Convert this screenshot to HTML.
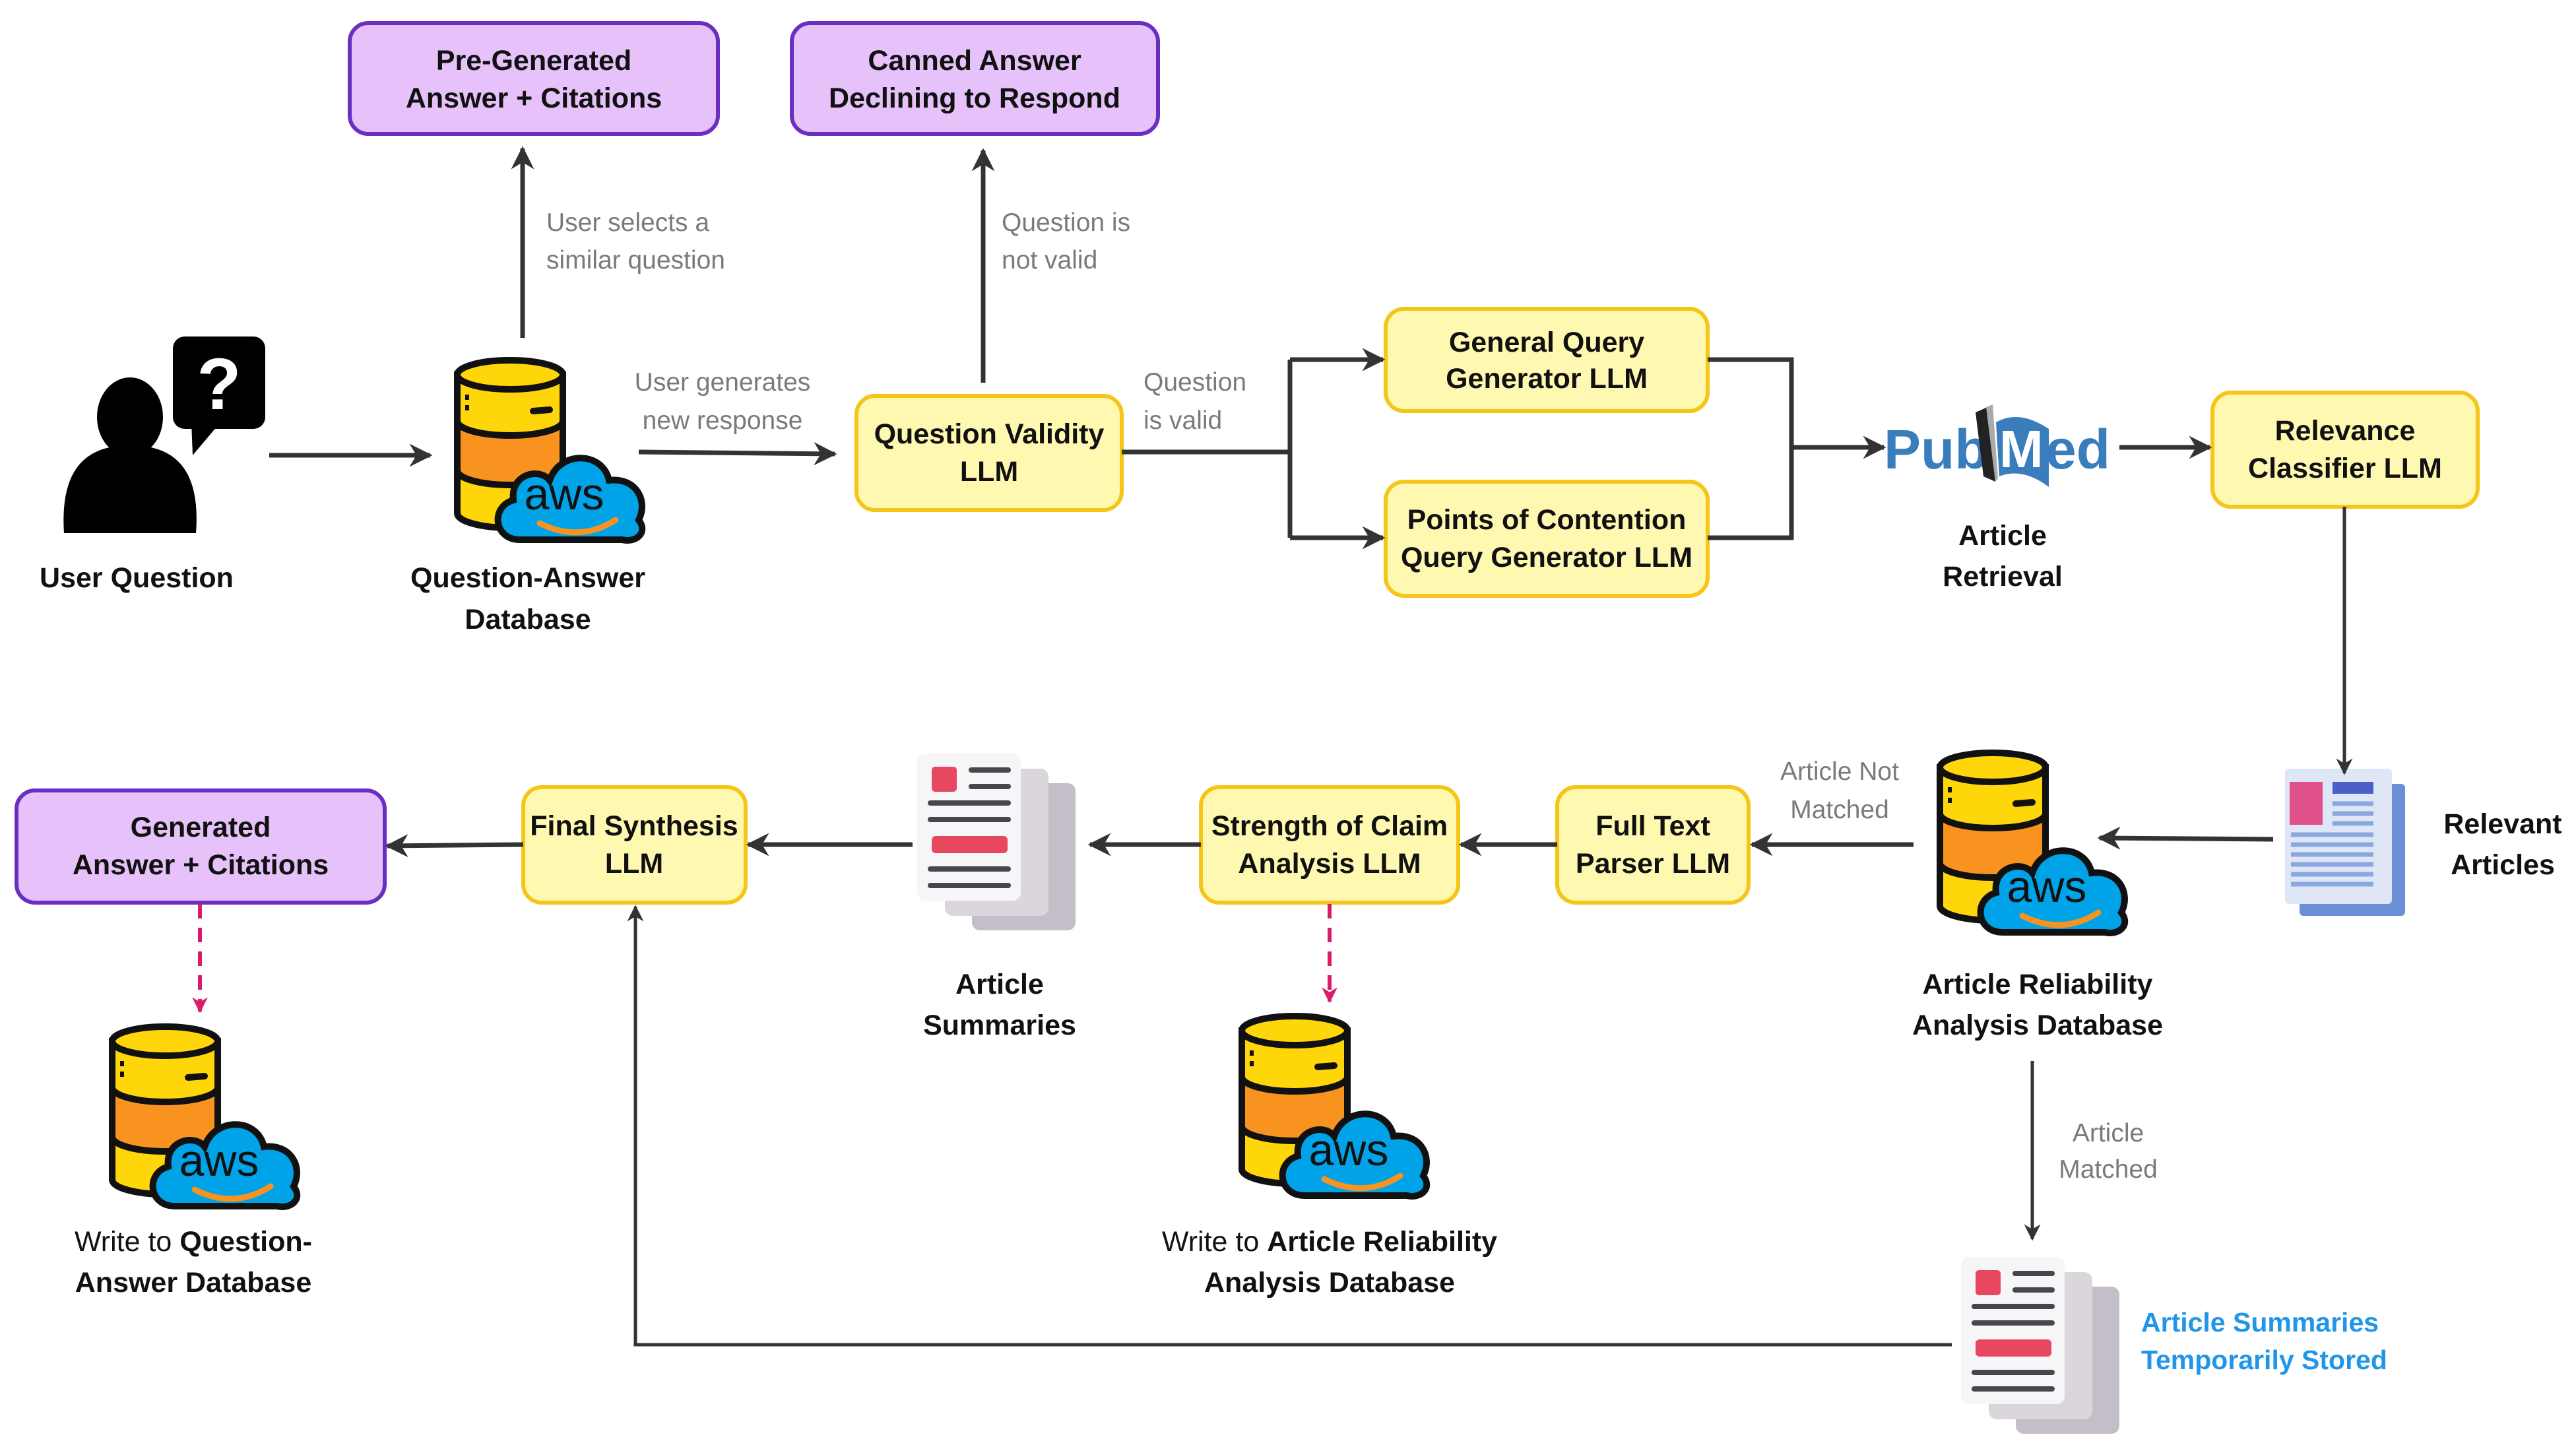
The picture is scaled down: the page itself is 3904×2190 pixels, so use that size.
<!DOCTYPE html>
<html><head><meta charset="utf-8"><style>
html,body{margin:0;padding:0;background:#fff;}
svg{display:block;}
.b{font-family:"Liberation Sans",sans-serif;font-weight:bold;font-size:43px;fill:#111;text-anchor:middle;}
.g{font-family:"Liberation Sans",sans-serif;font-size:39px;fill:#7a7a7a;}
.n{font-family:"Liberation Sans",sans-serif;font-size:43px;fill:#111;text-anchor:middle;}
</style></head><body>
<svg width="3904" height="2190" viewBox="0 0 3904 2190" xmlns="http://www.w3.org/2000/svg">
<defs>
<marker id="ar" viewBox="0 0 10 10" refX="9" refY="5" markerWidth="5" markerHeight="5" orient="auto-start-reverse" markerUnits="strokeWidth">
<path d="M0,0 L10,5 L0,10 L3,5 z" fill="#333"/></marker>
<marker id="ap" viewBox="0 0 10 10" refX="9" refY="5" markerWidth="4" markerHeight="4" orient="auto" markerUnits="strokeWidth">
<path d="M0,0 L10,5 L0,10 L3,5 z" fill="#d81b6a"/></marker>
<g id="db">
<path d="M5,25 L5,235 A80,22 0 0 0 165,235 L165,25 Z" fill="#ffd60a" stroke="#111" stroke-width="10"/>
<path d="M5,95 A80,22 0 0 0 165,95 L165,170 A80,22 0 0 1 5,170 Z" fill="#f7931e" stroke="#111" stroke-width="10"/>
<ellipse cx="85" cy="25" rx="80" ry="22" fill="#ffd60a" stroke="#111" stroke-width="10"/>
<line x1="120" y1="80" x2="145" y2="78" stroke="#111" stroke-width="10" stroke-linecap="round"/>
<line x1="20" y1="55" x2="20" y2="80" stroke="#111" stroke-width="6" stroke-dasharray="8 8"/>
<path d="M100,275 C60,275 55,225 90,215 C85,175 130,165 145,185 C160,140 225,140 235,185 C275,180 295,215 280,245 C295,265 275,280 255,275 Z" fill="#00a3e8" stroke="#111" stroke-width="10"/>
<path d="M130,250 Q190,280 245,245" fill="none" stroke="#f7931e" stroke-width="9" stroke-linecap="round"/>
</g>
<g id="doc">
<rect x="83" y="45" width="157" height="223" rx="12" fill="#c4bec8"/>
<rect x="42" y="23" width="157" height="223" rx="12" fill="#dbd6dc"/>
<rect x="0" y="0" width="157" height="223" rx="12" fill="#f6f5f7"/>
<rect x="22" y="20" width="38" height="38" rx="5" fill="#e8485f"/>
<g stroke="#4a454b" stroke-width="8" stroke-linecap="round">
<line x1="82" y1="25" x2="138" y2="25"/><line x1="82" y1="50" x2="138" y2="50"/>
<line x1="20" y1="75" x2="138" y2="75"/><line x1="20" y1="100" x2="138" y2="100"/>
<line x1="20" y1="175" x2="138" y2="175"/><line x1="20" y1="200" x2="138" y2="200"/></g>
<rect x="22" y="125" width="115" height="26" rx="6" fill="#e8485f"/>
</g>
</defs>

<!-- purple boxes -->
<rect x="530" y="35" width="558" height="168" rx="28" fill="#e6c1fa" stroke="#6a2fc0" stroke-width="6"/>
<text class="b" x="809" y="106">Pre-Generated</text><text class="b" x="809" y="163">Answer + Citations</text>
<rect x="1200" y="35" width="555" height="168" rx="28" fill="#e6c1fa" stroke="#6a2fc0" stroke-width="6"/>
<text class="b" x="1477" y="106">Canned Answer</text><text class="b" x="1477" y="163">Declining to Respond</text>
<rect x="25" y="1198" width="558" height="170" rx="28" fill="#e6c1fa" stroke="#6a2fc0" stroke-width="6"/>
<text class="b" x="304" y="1268">Generated</text><text class="b" x="304" y="1325">Answer + Citations</text>

<!-- yellow boxes -->
<g fill="#fff8b0" stroke="#f5c518" stroke-width="6">
<rect x="1298" y="600" width="402" height="173" rx="28"/>
<rect x="2100" y="468" width="488" height="155" rx="28"/>
<rect x="2100" y="730" width="488" height="173" rx="28"/>
<rect x="3353" y="595" width="402" height="173" rx="28"/>
<rect x="2360" y="1193" width="290" height="175" rx="28"/>
<rect x="1820" y="1193" width="390" height="175" rx="28"/>
<rect x="793" y="1193" width="337" height="175" rx="28"/>
</g>
<text class="b" x="1499" y="672">Question Validity</text><text class="b" x="1499" y="729">LLM</text>
<text class="b" x="2344" y="533">General Query</text><text class="b" x="2344" y="588">Generator  LLM</text>
<text class="b" x="2344" y="802">Points of Contention</text><text class="b" x="2344" y="859">Query Generator LLM</text>
<text class="b" x="3554" y="667">Relevance</text><text class="b" x="3554" y="724">Classifier LLM</text>
<text class="b" x="2505" y="1266">Full Text</text><text class="b" x="2505" y="1323">Parser LLM</text>
<text class="b" x="2015" y="1266">Strength of Claim</text><text class="b" x="2015" y="1323">Analysis LLM</text>
<text class="b" x="961" y="1266">Final Synthesis</text><text class="b" x="961" y="1323">LLM</text>

<!-- user icon -->
<ellipse cx="197" cy="632" rx="50" ry="60" fill="#000"/>
<path d="M97,808 C90,700 140,675 197,675 C255,675 305,700 297,808 Z" fill="#000"/>
<rect x="262" y="510" width="140" height="140" rx="18" fill="#000"/>
<path d="M290,640 L292,690 L330,645 Z" fill="#000"/>
<text x="332" y="620" font-family="Liberation Sans,sans-serif" font-weight="bold" font-size="110" fill="#fff" text-anchor="middle">?</text>
<text class="b" x="207" y="890">User Question</text>

<!-- DB icons -->
<use href="#db" x="688" y="543"/><text x="855" y="772" font-family="Liberation Sans,sans-serif" font-size="68" fill="#111" text-anchor="middle">aws</text>
<use href="#db" x="2935" y="1138"/><text x="3102" y="1367" font-family="Liberation Sans,sans-serif" font-size="68" fill="#111" text-anchor="middle">aws</text>
<use href="#db" x="1877" y="1537"/><text x="2044" y="1766" font-family="Liberation Sans,sans-serif" font-size="68" fill="#111" text-anchor="middle">aws</text>
<use href="#db" x="165" y="1553"/><text x="332" y="1782" font-family="Liberation Sans,sans-serif" font-size="68" fill="#111" text-anchor="middle">aws</text>

<text class="b" x="800" y="890">Question-Answer</text><text class="b" x="800" y="953">Database</text>
<text class="b" x="3088" y="1506">Article Reliability</text><text class="b" x="3088" y="1568">Analysis Database</text>
<text class="n" x="2015" y="1896">Write to <tspan font-weight="bold">Article Reliability</tspan></text><text class="b" x="2015" y="1958">Analysis Database</text>
<text class="n" x="293" y="1896">Write to <tspan font-weight="bold">Question-</tspan></text><text class="b" x="293" y="1958">Answer Database</text>

<!-- docs -->
<use href="#doc" x="1390" y="1142"/>
<text class="b" x="1515" y="1506">Article</text><text class="b" x="1515" y="1568">Summaries</text>
<use href="#doc" x="2972" y="1905"/>
<text x="3245" y="2018" font-family="Liberation Sans,sans-serif" font-weight="bold" font-size="41" fill="#2196e8">Article Summaries</text>
<text x="3245" y="2075" font-family="Liberation Sans,sans-serif" font-weight="bold" font-size="41" fill="#2196e8">Temporarily Stored</text>

<!-- relevant articles -->
<rect x="3485" y="1188" width="160" height="200" rx="6" fill="#6b8fd6"/>
<rect x="3463" y="1165" width="162" height="205" rx="6" fill="#dfe6f5"/>
<rect x="3470" y="1185" width="50" height="65" fill="#e0508a"/>
<rect x="3535" y="1185" width="62" height="18" fill="#4a5fc8"/>
<g stroke="#8aa8e0" stroke-width="7"><line x1="3535" y1="1218" x2="3597" y2="1218"/><line x1="3535" y1="1233" x2="3597" y2="1233"/><line x1="3535" y1="1248" x2="3597" y2="1248"/>
<line x1="3472" y1="1265" x2="3597" y2="1265"/><line x1="3472" y1="1280" x2="3597" y2="1280"/><line x1="3472" y1="1295" x2="3597" y2="1295"/><line x1="3472" y1="1310" x2="3597" y2="1310"/><line x1="3472" y1="1325" x2="3597" y2="1325"/><line x1="3472" y1="1340" x2="3597" y2="1340"/></g>
<text class="b" x="3793" y="1263">Relevant</text><text class="b" x="3793" y="1325">Articles</text>

<!-- pubmed -->
<text x="2855" y="710" font-family="Liberation Sans,sans-serif" font-weight="bold" font-size="84" fill="#3a7dbd">Pub</text>
<path d="M2994,625 L3012,617 L3024,730 L3006,722 Z" fill="#222"/>
<path d="M3010,617 L3020,613 L3028,725 L3024,730 Z" fill="#aaa"/>
<path d="M3025,640 Q3060,620 3105,650 L3105,738 Q3065,708 3030,722 Z" fill="#3a7dbd"/>
<text x="3030" y="708" font-family="Liberation Sans,sans-serif" font-weight="bold" font-size="80" fill="#fff">M</text>
<text x="3100" y="710" font-family="Liberation Sans,sans-serif" font-weight="bold" font-size="84" fill="#3a7dbd">ed</text>
<text class="b" x="3035" y="826">Article</text><text class="b" x="3035" y="888">Retrieval</text>

<!-- connectors -->
<g stroke="#333" stroke-width="7" fill="none">
<line x1="408" y1="690" x2="652" y2="690" marker-end="url(#ar)"/>
<line x1="792" y1="512" x2="792" y2="225" marker-end="url(#ar)"/>
<line x1="968" y1="685" x2="1265" y2="688" marker-end="url(#ar)"/>
<line x1="1490" y1="580" x2="1490" y2="228" marker-end="url(#ar)"/>
<polyline points="1700,685 1955,685"/>
<polyline points="1955,545 1955,815"/>
<line x1="1955" y1="545" x2="2096" y2="545" marker-end="url(#ar)"/>
<line x1="1955" y1="815" x2="2096" y2="815" marker-end="url(#ar)"/>
<polyline points="2588,545 2715,545 2715,815 2588,815"/>
<line x1="2715" y1="678" x2="2855" y2="678" marker-end="url(#ar)"/>
<line x1="3212" y1="678" x2="3349" y2="678" marker-end="url(#ar)"/>
<line x1="3553" y1="768" x2="3553" y2="1172" stroke-width="5" marker-end="url(#ar)"/>
<line x1="3445" y1="1272" x2="3182" y2="1270" marker-end="url(#ar)"/>
<line x1="2900" y1="1280" x2="2655" y2="1280" marker-end="url(#ar)"/>
<line x1="2360" y1="1280" x2="2214" y2="1280" marker-end="url(#ar)"/>
<line x1="1820" y1="1280" x2="1652" y2="1280" marker-end="url(#ar)"/>
<line x1="1383" y1="1280" x2="1134" y2="1280" marker-end="url(#ar)"/>
<line x1="793" y1="1280" x2="587" y2="1282" marker-end="url(#ar)"/>
<line x1="3080" y1="1608" x2="3080" y2="1878" stroke-width="5" marker-end="url(#ar)"/>
<polyline points="2958,2038 963,2038 963,1374" stroke-width="5" marker-end="url(#ar)"/>
</g>
<g stroke="#d81b6a" stroke-width="6" fill="none" stroke-dasharray="22 14">
<line x1="2015" y1="1370" x2="2015" y2="1518" marker-end="url(#ap)"/>
<line x1="303" y1="1370" x2="303" y2="1533" marker-end="url(#ap)"/>
</g>

<!-- gray labels -->
<text class="g" x="828" y="350">User selects a</text><text class="g" x="828" y="407">similar question</text>
<text class="g" x="1518" y="350">Question is</text><text class="g" x="1518" y="407">not valid</text>
<text class="g" x="1095" y="592" text-anchor="middle">User generates</text><text class="g" x="1095" y="650" text-anchor="middle">new response</text>
<text class="g" x="1733" y="592">Question</text><text class="g" x="1733" y="650">is valid</text>
<text class="g" x="2788" y="1182" text-anchor="middle">Article Not</text><text class="g" x="2788" y="1240" text-anchor="middle">Matched</text>
<text class="g" x="3195" y="1730" text-anchor="middle">Article</text><text class="g" x="3195" y="1785" text-anchor="middle">Matched</text>
</svg>
</body></html>
